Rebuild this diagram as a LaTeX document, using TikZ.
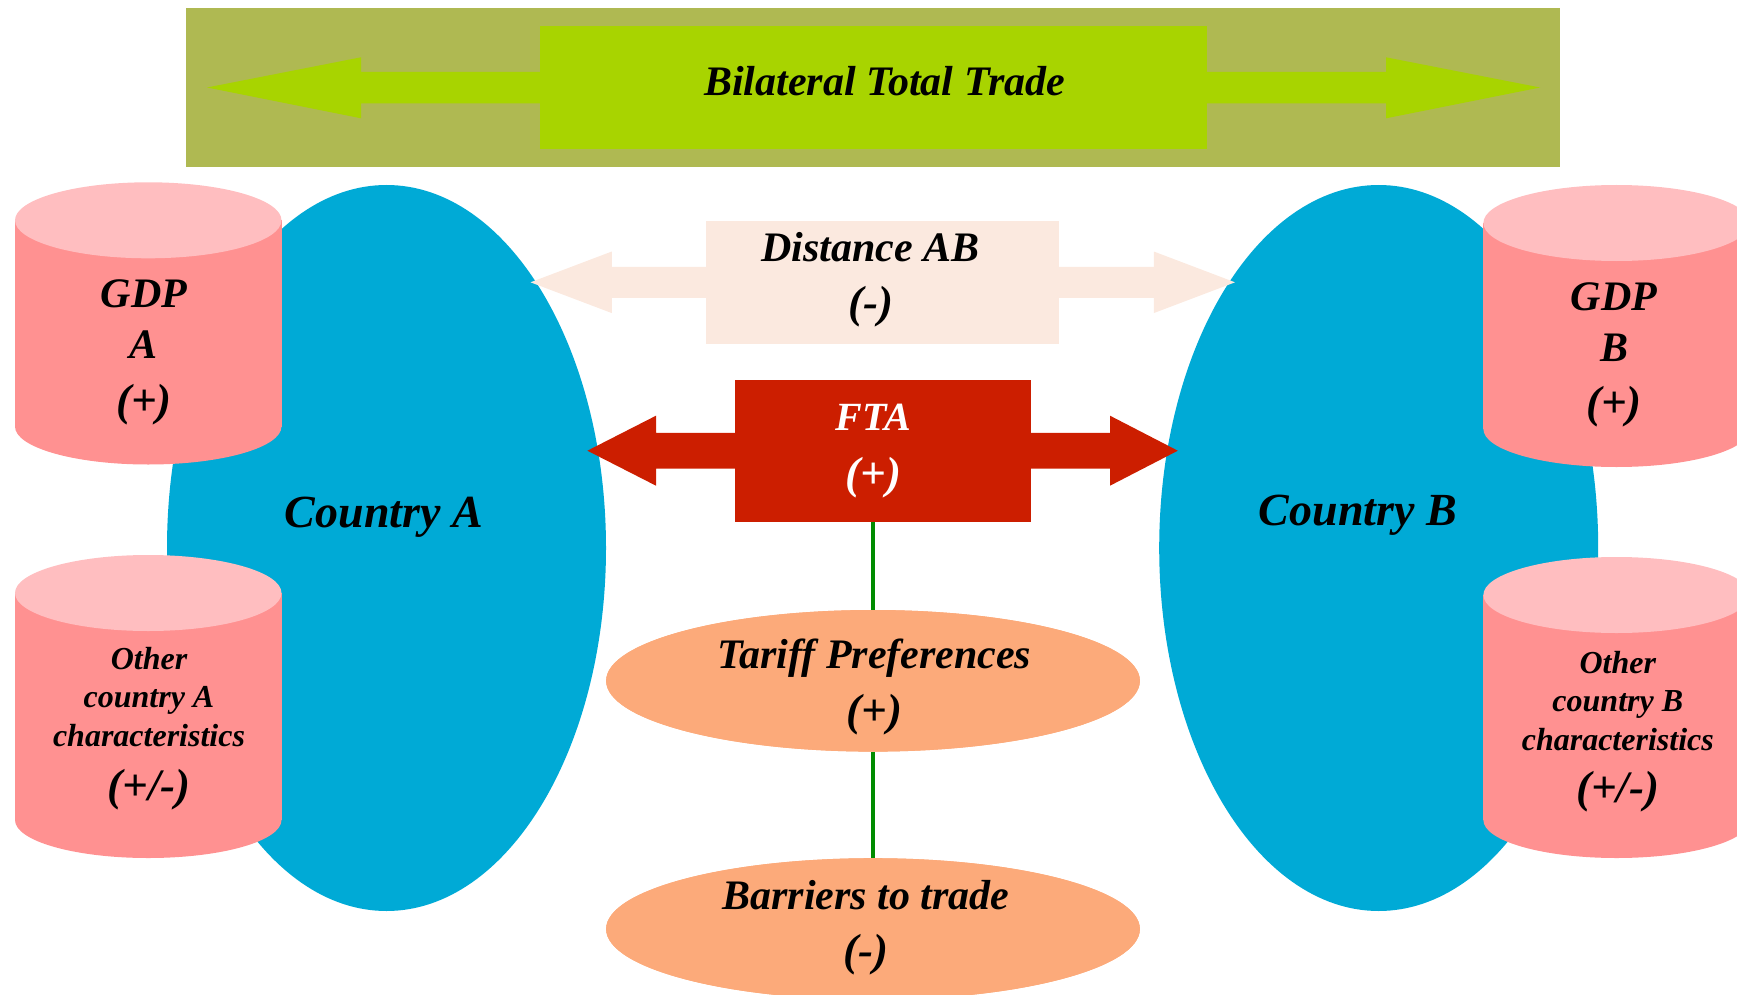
\documentclass[tikz,border=0pt]{standalone}
\usepackage{fontspec}
\setmainfont{Liberation Serif}
\usetikzlibrary{shapes.geometric}

\definecolor{tradeOlive}{RGB}{175,185,82}
\definecolor{tradeGreen}{RGB}{168,212,0}
\definecolor{countryBlue}{RGB}{0,170,214}
\definecolor{distPeach}{RGB}{251,233,223}
\definecolor{ftaRed}{RGB}{204,30,0}
\definecolor{pinkTop}{RGB}{255,190,192}
\definecolor{pinkBody}{RGB}{255,145,145}
\definecolor{ovalOrange}{RGB}{252,170,122}
\definecolor{linkGreen}{RGB}{0,140,0}

% bold italic text at a given size / baseline skip
\newcommand{\bi}[2]{\fontsize{#1}{#2}\selectfont\bfseries\itshape}
% centred lines; the box baseline is that of the first line
\newcommand{\stacklines}[1]{\vtop{\halign{\hfil##\hfil\cr#1\crcr}}}
% sign annotations such as (+) and (-)
\newcommand{\sgn}[1]{{\fontsize{45}{52}\selectfont #1}}
% cylinder: centre x, top-ellipse centre y, bottom-ellipse centre y
\newcommand{\drumshape}[3]{%
  \fill[pinkBody] (#1-133.25,#2) rectangle (#1+133.25,#3);
  \fill[pinkBody] (#1,#3) ellipse [x radius=133.25pt, y radius=38pt];
  \fill[pinkTop]  (#1,#2) ellipse [x radius=133.25pt, y radius=38pt];}

\tikzset{
  txt/.style={inner sep=0pt, outer sep=0pt, anchor=base},
  plain/.style={inner sep=0pt, outer sep=0pt},
  oval/.style={plain, ellipse, fill=ovalOrange, minimum width=533.8pt, minimum height=141.6pt},
  country/.style={plain, ellipse, fill=countryBlue, minimum width=439pt, minimum height=726pt},
  link/.style={draw=linkGreen, line width=4.5pt}
}

\begin{document}
\begin{tikzpicture}[x=1pt,y=-1pt]
\useasboundingbox (0,0) rectangle (1737,995);
\clip (0,0) rectangle (1737,995);

% --- bilateral total trade banner
\node[plain, fill=tradeOlive, minimum width=1374pt, minimum height=159pt] (banner) at (873,88) {};
\fill[tradeGreen] (207,87.5) -- (361,57.3) -- (361,72) -- (1386,72) -- (1386,57.3)
  -- (1540,87.5) -- (1386,118.3) -- (1386,103.3) -- (361,103.3) -- (361,118.3) -- cycle;
\node[plain, fill=tradeGreen, minimum width=667pt, minimum height=122.5pt] (trade) at (873,87.5) {};
\node[txt, font=\bi{42}{50}] (tradeText) at (884.6,95.5) {Bilateral Total Trade};

% --- the two countries
\node[country] (countryA) at (386.5,548) {};
\node[country] (countryB) at (1378.7,548) {};

% --- country characteristics
\drumshape{148.25}{220.3}{426.5}
\drumshape{148.25}{593}{820}
\drumshape{1616.6}{223}{429}
\drumshape{1616.6}{595}{820}

\node[txt, font=\bi{42}{51.5}] (gdpA) at (144,307.3)
  {\stacklines{GDP\cr A\cr\noalign{\kern5.2pt}\sgn{(+)}}};
\node[txt, font=\bi{42}{51.5}] (gdpB) at (1614,310)
  {\stacklines{GDP\cr B\cr\noalign{\kern4.2pt}\sgn{(+)}}};
\node[txt, font=\bi{32}{38.35}] (otherA) at (149,669.3)
  {\stacklines{Other\cr country A\cr characteristics\cr\noalign{\kern16.1pt}\sgn{(+/-)}}};
\node[txt, font=\bi{32}{38.35}] (otherB) at (1617.8,673.3)
  {\stacklines{Other\cr country B\cr characteristics\cr\noalign{\kern13.8pt}\sgn{(+/-)}}};

% --- distance
\fill[distPeach] (530.5,282.3) -- (611.8,251.5) -- (611.8,266.8) -- (1153.8,266.8) -- (1153.8,251.5)
  -- (1235,282.3) -- (1153.8,313.1) -- (1153.8,297.8) -- (611.8,297.8) -- (611.8,313.1) -- cycle;
\node[plain, fill=distPeach, minimum width=353pt, minimum height=123.6pt] (distance) at (882.5,282.5) {};
\node[txt, font=\bi{42}{55.5}] (distText) at (870.5,261.7)
  {\stacklines{Distance AB\cr\sgn{(-)}}};

% --- free trade agreement
\fill[ftaRed] (587.4,450.7) -- (656,415.7) -- (656,432.8) -- (1110,432.8) -- (1110,415.7)
  -- (1177.8,450.7) -- (1110,485.7) -- (1110,468.6) -- (656,468.6) -- (656,485.7) -- cycle;
\node[plain, fill=ftaRed, minimum width=295.5pt, minimum height=141.7pt] (fta) at (882.75,450.85) {};
\node[txt, text=white, font=\bi{40}{57.5}] (ftaText) at (873.5,430.7)
  {\stacklines{FTA\cr\sgn{(+)}}};

% --- trade policy components
\node[oval] (tariff) at (873,680.8) {};
\node[oval] (barriers) at (873,929) {};
\draw[link] (tariff.north |- fta.south) -- (tariff.north);
\draw[link] (tariff.south) -- (barriers.north);
\node[oval] at (tariff) {};
\node[oval] at (barriers) {};
\node[txt, font=\bi{42}{57.2}] (tariffText) at (874.4,668.3)
  {\stacklines{Tariff Preferences\cr\sgn{(+)}}};
\node[txt, font=\bi{42}{56.2}] (barrierText) at (866,909.3)
  {\stacklines{Barriers to trade\cr\sgn{(-)}}};

% --- country labels
\node[txt, font=\bi{46}{55}] (countryAText) at (384,527.3) {Country A};
\node[txt, font=\bi{46}{55}] (countryBText) at (1357.8,525) {Country B};
\end{tikzpicture}
\end{document}
